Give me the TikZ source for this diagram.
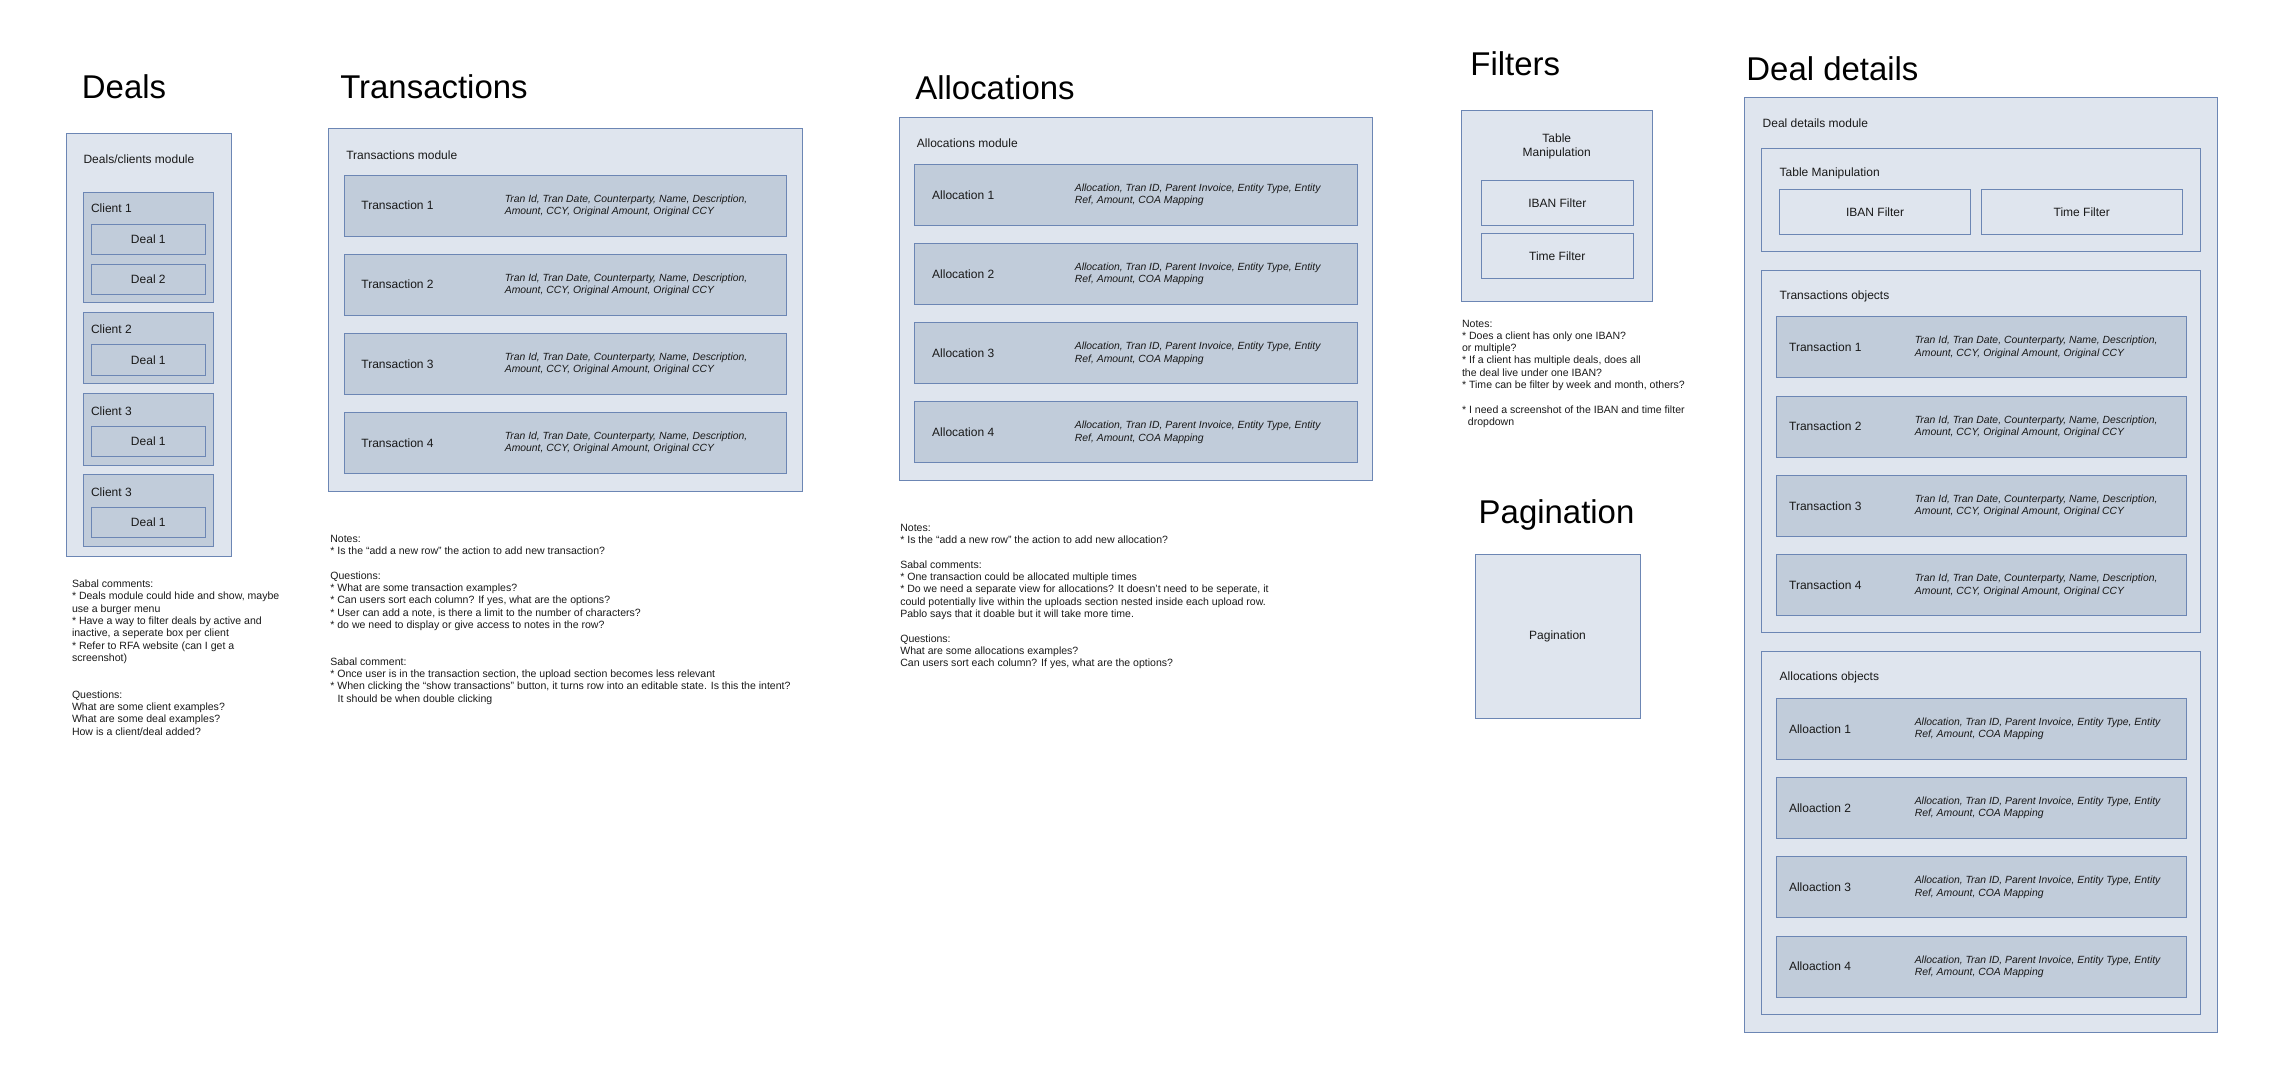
\documentclass[tikz,border=0pt]{standalone}
\usepackage{fontspec}
\setmainfont{Liberation Sans}
\usetikzlibrary{positioning}

\definecolor{boxline}{RGB}{108,134,180}
\definecolor{modfill}{RGB}{223,229,238}
\definecolor{itemfill}{RGB}{193,204,218}

\begin{document}
\begin{tikzpicture}[
            x=1pt, y=-1pt, % screen-like units, y grows downwards
            module_style/.style={draw=boxline, fill=modfill, line width=0.6pt, inner sep=0pt},
            item_style/.style={draw=boxline, fill=itemfill, line width=0.6pt, inner sep=0pt},
            title_style/.style={font=\fontsize{22.5}{27}\selectfont, anchor=base west, inner sep=0pt},
            label_style/.style={font=\fontsize{8.2}{9.8}\selectfont, text=black!90, inner sep=0pt},
            field_style/.style={font=\fontsize{7.1}{8.4}\selectfont\itshape, text=black!90, align=left, anchor=west, inner sep=0pt},
            note_style/.style={font=\fontsize{7.2}{8.4}\selectfont, text=black!90, align=left, anchor=north west, inner sep=0pt}
        ]

        \useasboundingbox (0,0) rectangle (1568,734.5);

        % Deals
        \node[title_style] (t_deals) at (55.8,67.3) {Deals};
        \node[module_style, minimum width=112.7pt, minimum height=289.2pt] (deals) at (101.45,235.8) {};
        \node[label_style, anchor=west] (deals_lbl) at (56.9,108.9) {Deals/clients module};

        % clients with their deals
        \foreach \c/\top/\bot/\ly/\txt in {c1/131.2/206.8/142.5/Client 1, c2/213.5/262.3/224.8/Client 2,
                c3/268.7/317.8/280.6/Client 3, c4/324.3/373.3/336.1/Client 3} {
                \node[item_style, minimum width=88.9pt, minimum height={\bot-\top}] (\c) at (101.35,{(\top+\bot)/2}) {};
                \node[label_style, anchor=west] (\c_lbl) at (62,\ly) {\txt};
            }
        \foreach \d/\y/\txt in {c1d1/163.5/Deal 1, c1d2/190.8/Deal 2, c2d1/245.9/Deal 1, c3d1/301.6/Deal 1, c4d1/356.8/Deal 1} {
                \node[item_style, label_style, minimum width=77.9pt, minimum height=20.6pt] (\d) at (101.35,\y) {\txt};
            }

        \node[note_style] (deals_notes) at (49.0,396.0) {Sabal comments:\\
            * Deals module could hide and show, maybe\\
            use a burger menu\\
            * Have a way to filter deals by active and\\
            inactive, a seperate box per client\\
            * Refer to RFA website (can I get a\\
            screenshot)\\[16.8pt]
            Questions:\\
            What are some client examples?\\
            What are some deal examples?\\
            How is a client/deal added?};

        % Transactions
        \node[title_style] (t_trans) at (232.3,67.6) {Transactions};
        \node[module_style, minimum width=323.9pt, minimum height=248pt] (trans) at (386.05,211.5) {};
        \node[label_style, anchor=west] (trans_lbl) at (236.4,105.7) {Transactions module};
        \foreach \i in {1,...,4} {
                \node[item_style, minimum width=302.5pt, minimum height=41.6pt] (tr\i) at (386.25,{140.4+(\i-1)*54.1}) {};
                \node[label_style, right=12pt of tr\i.west] (tr\i_lbl) {Transaction \i};
                \node[field_style, right=110pt of tr\i.west] (tr\i_fld) {Tran Id, Tran Date, Counterparty, Name, Description,\\Amount, CCY, Original Amount, Original CCY};
            }

        \node[note_style] (trans_notes) at (225.5,365.4) {Notes:\\
            * Is the “add a new row” the action to add new transaction?\\[8.4pt]
            Questions:\\
            * What are some transaction examples?\\
            * Can users sort each column? If yes, what are the options?\\
            * User can add a note, is there a limit to the number of characters?\\
            * do we need to display or give access to notes in the row?\\[16.8pt]
            Sabal comment:\\
            * Once user is in the transaction section, the upload section becomes less relevant\\
            * When clicking the “show transactions” button, it turns row into an editable state. Is this the intent?\\
            \hspace*{5pt}It should be when double clicking};

        % Allocations
        \node[title_style] (t_alloc) at (625.2,67.8) {Allocations};
        \node[module_style, minimum width=323.4pt, minimum height=248pt] (alloc) at (776.2,204.4) {};
        \node[label_style, anchor=west] (alloc_lbl) at (626.3,97.9) {Allocations module};
        \foreach \i in {1,...,4} {
                \node[item_style, minimum width=302.6pt, minimum height=41.6pt] (al\i) at (776.3,{133.1+(\i-1)*54.1}) {};
                \node[label_style, right=12pt of al\i.west] (al\i_lbl) {Allocation \i};
                \node[field_style, right=109.5pt of al\i.west] (al\i_fld) {Allocation, Tran ID, Parent Invoice, Entity Type, Entity\\Ref, Amount, COA Mapping};
            }

        \node[note_style] (alloc_notes) at (614.9,357.9) {Notes:\\
            * Is the “add a new row” the action to add new allocation?\\[8.4pt]
            Sabal comments:\\
            * One transaction could be allocated multiple times\\
            * Do we need a separate view for allocations? It doesn’t need to be seperate, it\\
            could potentially live within the uploads section nested inside each upload row.\\
            Pablo says that it doable but it will take more time.\\[8.4pt]
            Questions:\\
            What are some allocations examples?\\
            Can users sort each column? If yes, what are the options?};

        % Filters
        \node[title_style] (t_filt) at (1004.4,51.8) {Filters};
        \node[module_style, minimum width=130.5pt, minimum height=130.5pt] (filt) at (1063.95,140.85) {};
        \node[label_style, align=center] (filt_lbl) at (1063.6,99.9) {Table\\Manipulation};
        \node[module_style, label_style, minimum width=104.1pt, minimum height=30.3pt] (f_iban) at (1063.95,138.55) {IBAN Filter};
        \node[module_style, label_style, minimum width=104.1pt, minimum height=30.6pt] (f_time) at (1063.95,174.8) {Time Filter};

        \node[note_style] (filt_notes) at (998.7,218.3) {Notes:\\
            * Does a client has only one IBAN?\\
            or multiple?\\
            * If a client has multiple deals, does all\\
            the deal live under one IBAN?\\
            * Time can be filter by week and month, others?\\[8.4pt]
            * I need a screenshot of the IBAN and time filter\\
            \hspace*{4pt}dropdown};

        % Pagination
        \node[title_style] (t_pag) at (1010.1,357.6) {Pagination};
        \node[module_style, label_style, minimum width=112.7pt, minimum height=112.3pt] (pag) at (1064.15,434.65) {Pagination};

        % Deal details
        \node[title_style] (t_det) at (1193,54.8) {Deal details};
        \node[module_style, minimum width=323.6pt, minimum height=638.7pt] (det) at (1353.4,385.95) {};
        \node[label_style, anchor=west] (det_lbl) at (1204.1,84.3) {Deal details module};

        \node[module_style, minimum width=299.5pt, minimum height=70.6pt] (d_table) at (1353.35,136.4) {};
        \node[label_style, anchor=west] (d_table_lbl) at (1215.7,118.8) {Table Manipulation};
        \node[module_style, label_style, minimum width=130.8pt, minimum height=30.9pt] (d_iban) at (1281.1,144.75) {IBAN Filter};
        \node[module_style, label_style, minimum width=137.6pt, minimum height=30.9pt] (d_time) at (1422.3,144.75) {Time Filter};

        \node[module_style, minimum width=299.5pt, minimum height=247.8pt] (d_trans) at (1353.35,308.4) {};
        \node[label_style, anchor=west] (d_trans_lbl) at (1215.7,202.5) {Transactions objects};
        \foreach \i in {1,...,4} {
                \node[item_style, minimum width=280.6pt, minimum height=41.8pt] (dtr\i) at (1353.8,{237.3+(\i-1)*54.2}) {};
                \node[label_style, right=9pt of dtr\i.west] (dtr\i_lbl) {Transaction \i};
                \node[field_style, right=94.9pt of dtr\i.west] (dtr\i_fld) {Tran Id, Tran Date, Counterparty, Name, Description,\\Amount, CCY, Original Amount, Original CCY};
            }

        \node[module_style, minimum width=299.5pt, minimum height=247.7pt] (d_alloc) at (1353.35,569.15) {};
        \node[label_style, anchor=west] (d_alloc_lbl) at (1215.7,463.0) {Allocations objects};
        \foreach \i in {1,...,4} {
                \node[item_style, minimum width=280.4pt, minimum height=41.7pt] (dal\i) at (1353.6,{498.0+(\i-1)*54.1}) {};
                \node[label_style, right=9pt of dal\i.west] (dal\i_lbl) {Alloaction \i};
                \node[field_style, right=94.9pt of dal\i.west] (dal\i_fld) {Allocation, Tran ID, Parent Invoice, Entity Type, Entity\\Ref, Amount, COA Mapping};
            }

    \end{tikzpicture}
\end{document}
